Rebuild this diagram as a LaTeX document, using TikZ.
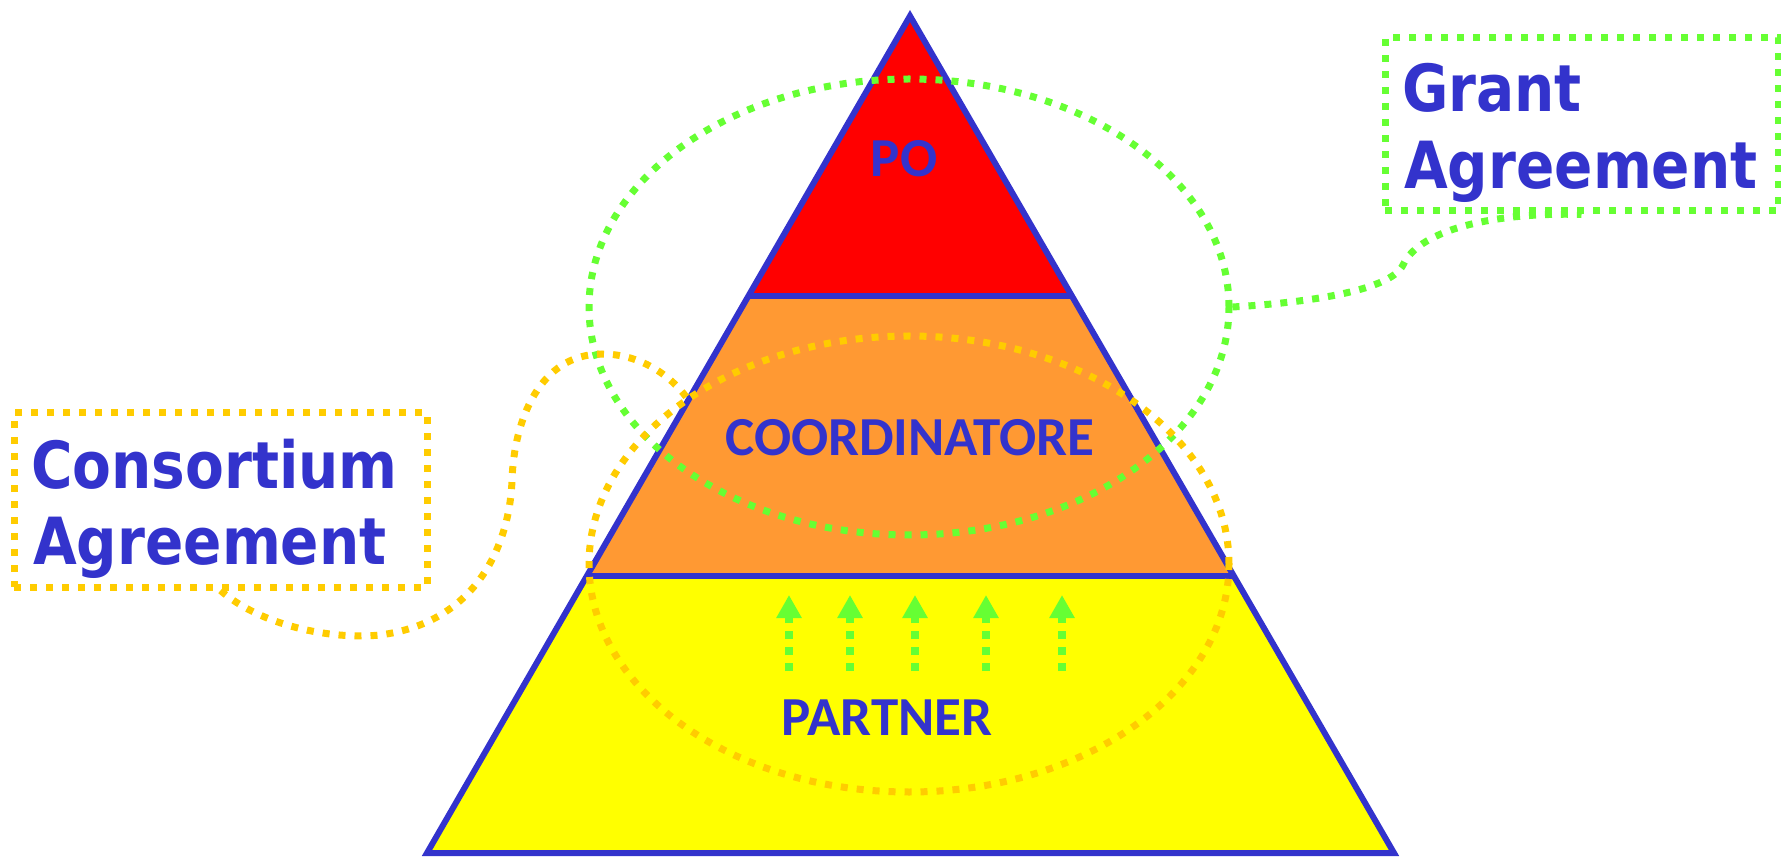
\documentclass[tikz,border=0pt]{standalone}
\usepackage{fontspec}
\usetikzlibrary{shapes.geometric,arrows.meta,calc}
\newfontfamily\calfont{Carlito}
\newfontfamily\tahfont[FakeStretch=0.87]{DejaVu Sans}
\definecolor{tblue}{HTML}{3333CC}
\definecolor{dgreen}{HTML}{66FF33}
\definecolor{dorange}{HTML}{FFCC00}
\definecolor{forange}{HTML}{FF9933}
\definecolor{fred}{HTML}{FF0000}
\definecolor{fyellow}{HTML}{FFFF00}
\begin{document}
\begin{tikzpicture}[x=1pt,y=-1pt,
  sqdots/.style={line width=7pt, dash pattern=on 7pt off 9pt},
  gdots/.style={sqdots, draw=dgreen},
  odots/.style={sqdots, draw=dorange},
  edgeline/.style={draw=tblue, line width=6pt, line join=miter},
  lvl/.style={font=\calfont\bfseries\fontsize{55}{60}\selectfont, text=tblue, inner sep=0pt, anchor=base},
  big/.style={font=\tahfont\bfseries\fontsize{65}{76}\selectfont, text=tblue, inner sep=0pt, anchor=base west},
  ell/.style={ellipse, minimum width=640pt, minimum height=456pt, inner sep=0pt},
  bbox/.style={rectangle, inner sep=0pt},
  uparrow/.style={draw=dgreen, line width=8pt, dash pattern=on 8pt off 8pt, -{Triangle[length=23pt,width=24pt]}}
]
\useasboundingbox (0,0) rectangle (1781,858);
% pyramid
\coordinate (A) at (910,16);
\coordinate (BL) at (427,853);
\coordinate (BR) at (1394,853);
\coordinate (P1L) at ($(A)!0.3345!(BL)$);
\coordinate (P1R) at ($(A)!0.3345!(BR)$);
\coordinate (P2L) at ($(A)!0.669!(BL)$);
\coordinate (P2R) at ($(A)!0.669!(BR)$);
\fill[fred] (A) -- (P1L) -- (P1R) -- cycle;
\fill[forange] (P1L) -- (P2L) -- (P2R) -- (P1R) -- cycle;
\fill[fyellow] (P2L) -- (BL) -- (BR) -- (P2R) -- cycle;
\draw[edgeline] (A) -- (BL) -- (BR) -- cycle;
\draw[edgeline] (P1L) -- (P1R);
\draw[edgeline] (P2L) -- (P2R);
% level labels
\node[lvl] (po) at (904,177) {PO};
\node[lvl] (coord) at (910,456) {COORDINATORE};
\node[lvl] (partner) at (887,735) {PARTNER};
% arrows
\foreach \i/\x in {1/789,2/850,3/915,4/986,5/1062}{
  \coordinate (s\i) at (\x,671);
  \coordinate (t\i) at (\x,595);
  \draw[uparrow] (s\i) -- (t\i);
}
% ellipses
\node[ell, gdots] (gell) at (909,307) {};
\node[ell, odots] (oell) at (909,564) {};
% boxes
\node[bbox, gdots, minimum width=393pt, minimum height=173pt] (gbox) at (1581.5,124.5) {};
\node[big] (gt1) at (1402,112) {Grant};
\node[big] (gt2) at (1404,189) {Agreement};
\node[bbox, odots, minimum width=413pt, minimum height=174pt] (cbox) at (220.5,500) {};
\node[big] (ct1) at (31,488) {Consortium};
\node[big] (ct2) at (33,564) {Agreement};
% connectors
\coordinate (oend) at (687,398);
\draw[gdots] (gell.east) .. controls (1300,303) and (1390,292) .. (1403,265)
  .. controls (1420,228) and (1500,212) .. (gbox.south);
\draw[odots] (cbox.south) .. controls (260,625) and (330,640) .. (380,635)
  .. controls (480,622) and (510,540) .. (512,480)
  .. controls (514,420) and (540,354) .. (602,354)
  .. controls (640,354) and (670,375) .. (oend);
\end{tikzpicture}
\end{document}
